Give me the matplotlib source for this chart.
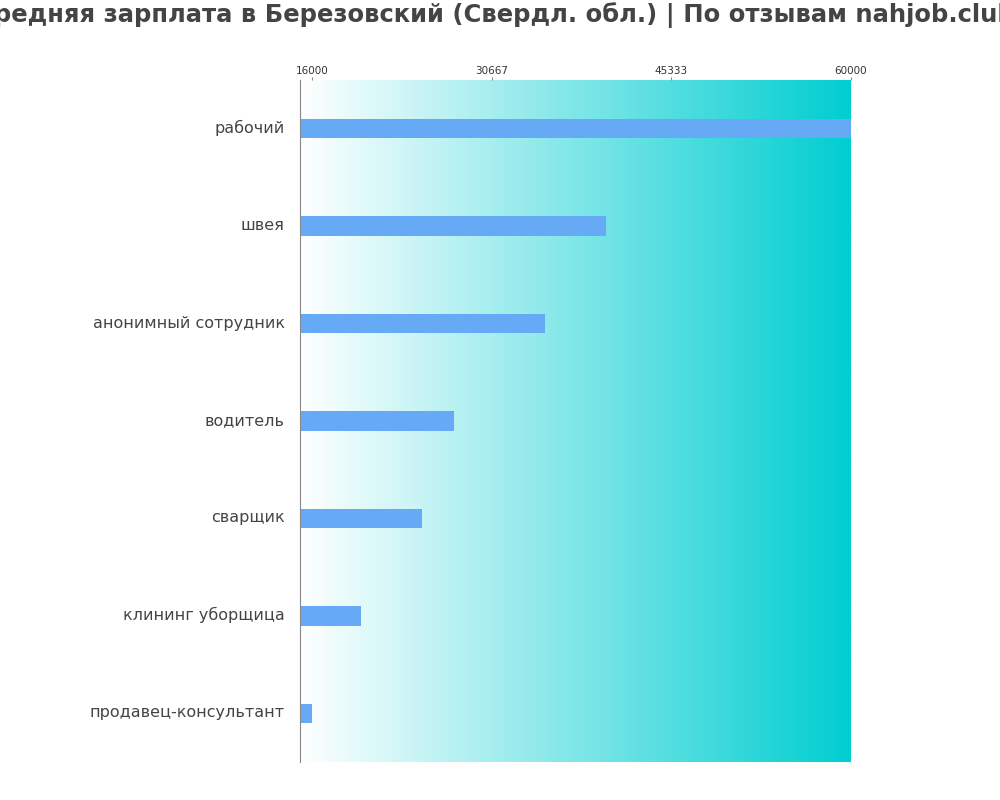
import numpy as np
import matplotlib.pyplot as plt
from matplotlib.colors import LinearSegmentedColormap

plt.rcParams['font.family'] = 'DejaVu Sans'

jobs = ['рабочий', 'швея', 'анонимный сотрудник', 'водитель', 'сварщик',
        'клининг уборщица', 'продавец-консультант']
salaries = [60000, 40000, 35000, 27600, 25000, 20000, 16000]
ticks = [16000, 30667, 45333, 60000]

xmin, xmax = 15000, 60000

fig = plt.figure(figsize=(10, 8), dpi=100)
ax = fig.add_axes([0.3, 0.0475, 0.551, 0.8525])

cmap = LinearSegmentedColormap.from_list('bg', ['#ffffff', '#00ced1'])
grad = np.linspace(0, 1, 256).reshape(1, -1)
n = len(jobs)
ax.imshow(grad, cmap=cmap, aspect='auto', extent=[xmin, xmax, n - 0.5, -0.5], zorder=0)

y = np.arange(n)
ax.barh(y, [s - xmin for s in salaries], left=xmin, height=0.2, color='#66aaf5', zorder=2)

ax.set_xlim(xmin, xmax)
ax.set_ylim(n - 0.5, -0.5)
ax.set_yticks(y - 0.02)
ax.set_yticklabels(jobs, fontsize=11.5, color='#444444')
ax.xaxis.tick_top()
ax.set_xticks(ticks)
ax.set_xticklabels([str(t) for t in ticks], fontsize=7.5, color='#333333')
ax.tick_params(axis='y', length=0, pad=11)
ax.tick_params(axis='x', length=2, pad=1, color='#888888')
for s in ['top', 'right', 'bottom']:
    ax.spines[s].set_visible(False)
ax.spines['left'].set_color('#888888')

fig.text(0.495, 0.981, 'Средняя зарплата в Березовский (Свердл. обл.) | По отзывам nahjob.club',
         ha='center', va='center', fontsize=17.5, fontweight='bold', color='#444444')

fig.savefig('out.png')
